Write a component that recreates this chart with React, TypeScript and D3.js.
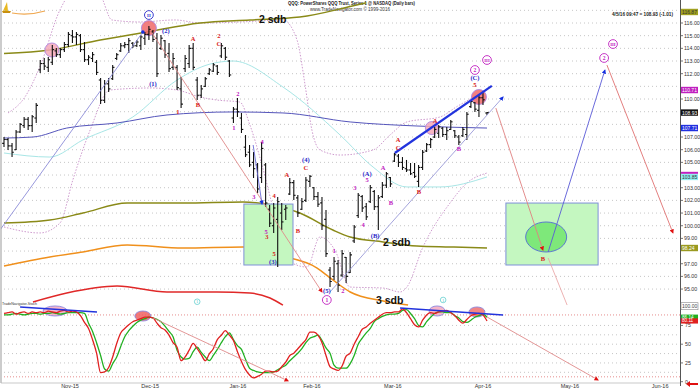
import React from 'react';
import * as d3 from 'd3';

// ---------- DATA ----------
const highs = [107.00,106.92,106.53,107.55,108.11,108.58,108.58,108.74,109.69,
113.08,113.24,113.32,114.26,114.03,114.03,114.50,115.29,115.45,115.29,
115.13,114.50,113.47,113.71,113.08,111.66,111.50,111.66,112.69,113.63,
114.42,114.50,114.82,114.50,114.66,115.05,115.29,115.76,115.45,115.21,
115.05,114.66,114.42,113.63,112.69,111.74,113.47,114.26,114.42,111.74,
111.11,111.74,112.45,112.84,112.69,114.42,114.11,113.08,109.37,110.08,
108.90,107.16,106.37,105.82,104.95,106.61,104.95,101.64,101.79,102.27,
101.79,101.64,103.77,103.61,102.42,102.19,103.85,104.00,103.06,102.66,
102.27,101.24,96.74,97.53,97.29,98.08,97.53,97.93,100.06,102.58,
102.42,101.79,103.21,102.82,102.42,103.45,104.24,103.85,105.74,105.66,
105.42,105.19,104.95,104.95,104.79,105.98,106.53,106.92,107.79,107.95,
107.79,107.79,108.34,107.55,107.16,107.79,108.98,109.92,109.76,110.32,
110.47,108.98];
const lows = [106.21,105.98,105.42,105.98,107.32,107.71,107.55,107.40,108.11,
112.05,112.29,112.13,112.69,113.32,113.24,113.71,114.11,114.42,114.26,
113.71,112.92,112.69,112.92,111.90,109.61,109.69,110.55,111.50,113.08,
113.71,114.03,113.63,114.03,114.11,113.87,114.26,114.66,114.50,111.74,
113.87,113.24,112.13,112.29,110.71,109.29,112.13,112.45,112.29,109.92,
110.08,110.95,111.90,112.13,111.90,113.24,113.08,111.74,108.11,108.58,
107.32,105.42,104.63,103.77,102.58,103.37,101.48,99.90,99.43,96.74,
99.66,100.45,102.42,102.03,100.69,101.24,101.87,103.06,102.03,101.48,
99.66,97.53,95.16,95.71,94.77,95.95,95.48,96.27,98.64,100.61,
101.08,100.45,101.79,101.24,99.66,102.19,102.98,103.06,105.03,104.63,
104.40,104.24,104.00,103.77,103.06,104.40,105.82,106.13,106.92,106.92,
107.00,106.77,107.55,106.92,106.37,107.00,106.77,109.29,108.98,108.58,
109.53,108.74];
const opens = [106.5,106.8,106.3,106.0,107.4,107.9,108.4,107.9,108.5,
112.3,112.8,112.5,112.9,113.8,113.5,113.9,114.3,115.0,114.9,
115.0,113.9,113.1,113.2,112.9,111.5,109.9,111.2,111.6,113.2,
113.8,114.2,114.3,114.4,114.2,114.2,114.8,115.1,115.3,114.8,
114.0,114.6,113.6,112.5,112.5,110.8,112.4,112.8,114.0,111.5,
110.3,111.0,112.0,112.2,112.6,113.4,114.0,113.0,108.5,109.2,
108.5,106.2,105.8,105.0,104.8,103.8,104.8,101.3,100.0,100.5,
101.0,101.3,102.5,103.4,102.2,101.3,102.0,103.5,103.0,102.3,
101.8,100.5,96.5,96.0,97.0,96.1,97.5,96.3,98.8,100.8,
102.3,101.5,101.9,102.7,101.5,102.3,103.2,103.8,105.1,105.5,
105.0,104.5,104.4,104.2,103.5,104.6,105.9,106.4,107.0,107.3,
107.7,107.2,107.6,107.5,107.0,107.1,107.2,109.4,109.7,109.1,
110.1,108.9];
const closes = [106.8,106.3,105.8,107.4,108.0,108.4,107.9,108.6,109.5,
112.8,112.6,113.1,113.9,113.5,113.9,114.3,115.1,114.9,115.1,
113.9,113.1,113.3,113.5,112.1,109.9,111.2,110.8,112.5,113.5,
114.2,114.3,114.6,114.2,114.5,114.9,115.1,115.5,114.7,112.0,
114.8,113.5,112.4,113.2,110.9,109.6,113.2,114.0,112.5,110.3,
110.8,111.6,112.3,112.7,112.1,114.2,113.3,111.9,109.2,109.0,
107.6,105.6,104.8,104.5,102.9,106.1,101.8,100.2,101.4,101.9,
100.3,101.4,103.4,102.4,101.0,101.9,103.6,103.9,102.3,101.7,
100.0,97.8,95.6,97.2,95.3,97.8,96.0,97.7,99.9,102.4,
101.4,100.7,103.0,101.5,102.2,103.2,104.1,103.3,105.6,105.0,
104.6,104.4,104.1,103.9,104.6,105.8,106.4,106.8,107.6,107.8,
107.2,107.5,108.2,107.1,106.6,107.6,108.8,109.8,109.2,110.1,
109.94,108.93];

const stochK = [91,92,93,90,92,93,91,93,92,93,92,94,93,92,94,95,93,94,93,
88,79,71,56,38,12,13,19,33,51,
65,71,76,80,82,84,86,86,85,78,
72,69,62,52,46,28,33,42,51,44,
36,28,37,44,56,62,68,62,55,40,
27,16,9,5,7,10,14,14,13,14,
20,26,35,38,44,50,56,66,66,62,
52,35,20,17,15,21,34,38,50,60,
70,73,78,82,86,90,92,92,93,93,
97,92,84,76,73,82,89,92,91,93,
94,95,92,88,82,78,83,88,90,91,
89,81];
const stochD = [89,89,90,91,90,89,90,91,91,90,91,91,92,91,90,91,92,92,92,
92,91,78,67,52,35,17,14,24,33,
47,60,68,74,79,82,84,86,85,83,
80,74,67,60,42,33,30,31,40,46,
39,33,28,35,43,52,60,65,56,48,
43,30,18,15,13,12,12,12,13,16,
19,22,28,33,38,44,52,58,60,62,
55,45,38,22,18,18,18,24,35,50,
58,65,71,80,84,87,89,90,90,91,
95,96,91,84,75,73,80,86,91,93,
93,92,92,88,85,80,79,82,86,88,
90,86];

// overlay curves: [bar index, price]
const upper2sdb: [number, number][] = [[0,113.6],[11.4,113.87],[23.9,114.66],[35.5,115.29],[48.7,116.0],[61.1,116.24],[73.5,116.47],[86,117.3],[90,117.6]];
const lower2sdb: [number, number][] = [[0,100.21],[11.4,100.45],[19.6,101.0],[30.6,101.79],[44.5,101.79],[59.4,101.87],[65.3,101.71],[73.5,101.0],[81.7,99.66],[86,99.11],[94.2,98.72],[102.6,98.4],[110.8,98.32],[120,98.24]];
const sdb3: [number, number][] = [[0,96.82],[11.4,97.53],[19.6,97.93],[30.6,98.48],[44.5,98.24],[59.4,98.32],[67.8,97.69],[77.8,96.66],[81.7,95.72],[86,94.77],[94.2,94.06],[100.4,93.74]];
const sdb4: [number, number][] = [[7.2,93.98],[15.6,94.69],[28.1,95.24],[40.5,94.77],[52.9,94.77],[61.1,94.69],[66.1,94.3],[69.3,93.74]];
const ma50: [number, number][] = [[0,106.92],[7.2,107.0],[15.6,107.71],[28.1,108.11],[40.5,108.74],[56.9,108.98],[69.3,108.9],[86,108.19],[102.6,107.87],[120,107.71]];
const ma20: [number, number][] = [[0,105.74],[11.4,105.42],[19.6,106.77],[32,108.58],[43,111.5],[51.2,112.76],[56.9,113.0],[69.3,110.95],[83.5,107.16],[91.7,104.63],[100.1,103.06],[108.3,103.06],[120,103.85]];
const bandUp: [number, number][] = [[1,108.9],[5.2,110.16],[8.9,112.53],[13.9,117.03],[18.9,119.0],[23.9,118.2],[26.8,116.24],[33.8,116.08],[42.5,116.24],[48.7,116.0],[58.6,116.08],[69.3,116.24],[72.8,114.66],[74.8,111.11],[76.5,107.55],[78.5,105.98],[83.5,105.58],[91.7,105.98],[95.9,107.16],[100.1,108.19],[108.3,108.58],[112.5,109.4],[120,110.71]];
const bandLo: [number, number][] = [[0,99.9],[8.9,99.43],[13.9,100.21],[17.1,103.61],[21.4,107.55],[26.3,110.71],[36.3,110.87],[43,110.71],[48.7,110.16],[52.9,109.92],[58.6,109.76],[61.1,107.95],[64.1,104.79],[67.3,100.85],[71.1,97.14],[75.3,96.74],[78.5,99.11],[82.2,98.08],[86,95.16],[94.2,95.08],[98.4,94.77],[100.1,95.16],[104.1,98.32],[110.8,101.79],[115,103.37],[120,104.16]];

// projection / trend lines [idx, price]
const trendLines = [
  { pts: [[36.3,115.45],[79,94.77]], color: '#e08a8a', w: 0.9, arrow: 'red' },
  { pts: [[-1,99.66],[34.5,115.29]], color: '#8c8cd8', w: 0.9, arrow: 'dot' },
  { pts: [[61.9,106.37],[64.1,101.71]], color: '#6a6ad8', w: 0.9, arrow: 'blue' },
  { pts: [[81,94.77],[124,110.16]], color: '#9a9ad8', w: 0.9, arrow: 'blue' },
  { pts: [[97.1,105.74],[121.2,111.03]], color: '#2233dd', w: 2.2, arrow: '' },
  { pts: [[122.2,109.29],[133.9,98.08]], color: '#e08080', w: 0.9, arrow: 'red' },
  { pts: [[135.2,97.45],[139.9,93.74]], color: '#e8a0a0', w: 0.8, arrow: '' },
  { pts: [[135.2,97.93],[149.3,112.29]], color: '#5a5ad8', w: 0.9, arrow: 'blue' },
  { pts: [[149.8,112.68],[166.2,99.43]], color: '#e07070', w: 0.9, arrow: 'red' },
];
const stochTrend = [
  { pts: [[37,85],[70.6,1]], color: '#e08a8a', w: 0.9, arrow: 'red' },
  { pts: [[120,86.3],[147.6,2.3]], color: '#e08a8a', w: 0.9, arrow: 'red' },
  { pts: [[4,99.6],[23.1,92.9]], color: '#2233dd', w: 1.4, arrow: '' },
  { pts: [[98.4,98.3],[124,89]], color: '#2233dd', w: 1.4, arrow: '' },
];

const priceCircles = [
  { i: 11.9, p: 113.87, r: 7, fill: '#f4a8b8' },
  { i: 36, p: 115.6, r: 7.5, fill: '#f06868' },
  { i: 106.3, p: 107.71, r: 6.5, fill: '#f4a8b8' },
  { i: 118, p: 110.16, r: 7.5, fill: '#f06868' },
];
const stochEllipses = [
  { i: 12.7, v: 94.3, rx: 12, ry: 5, fill: '#f4a8c0' },
  { i: 34.5, v: 87.6, rx: 8, ry: 5, fill: '#f06060' },
  { i: 107.6, v: 94.3, rx: 8, ry: 5, fill: '#f4a8c0' },
  { i: 117.5, v: 93, rx: 8, ry: 5, fill: '#f07070' },
];

const waveLabels: [string, number, number, string][] = [
  ['(1)',37,111.19,'b'],['(2)',40.2,115.37,'b'],['1',43.2,108.98,'r'],['A',47,114.74,'r'],
  ['B',48.2,109.53,'r'],['2',53.4,115.05,'r'],['C',53.4,114.42,'r'],['1',57.1,107.79,'m'],
  ['2',58.1,110.4,'m'],['3',62.1,102.27,'m'],['4',64.1,106.61,'m'],['4',67.1,102.42,'r'],
  ['5',65.1,99.58,'m'],['3',65.3,99.11,'r'],['5',67.1,97.77,'r'],['(3)',66.8,97.14,'b'],
  ['A',70.3,104.08,'r'],['B',73,99.66,'r'],['(4)',75,105.19,'b'],['C',75,104.63,'r'],
  ['(5)',80.2,94.85,'b'],['1',82,98.08,'m'],['2',84.2,94.85,'m'],['3',87.2,102.98,'m'],
  ['4',89.2,100.06,'m'],['(A)',90.2,104.16,'b'],['5',90.2,103.61,'m'],['(B)',92.2,99.19,'b'],
  ['A',94.2,104.63,'m'],['B',96.1,101.87,'m'],['A',97.9,106.77,'r'],['C',97.9,106.21,'r'],
  ['B',103.1,102.74,'r'],['A',107.1,108.34,'r'],['B',113,106.13,'m'],['(C)',117,111.66,'b'],
  ['5',117,111.11,'r'],['B',133.9,97.45,'r'],
];
const circledLabels: [string, number, number, string][] = [
  ['II',36,116.63,'#2828c8'],['1',80.2,94.14,'#c020c0'],['2',117,112.29,'#c020c0'],
  ['III',120,113.08,'#c020c0'],['2',149.1,113.24,'#c020c0'],['III',151.3,114.34,'#c020c0'],
];
const cyanMarks: [number, number][] = [[48.0,94.0],[109.1,94.14]];

const greenBoxes = [
  { i0: 59.6, i1: 71.8, p0: 101.71, p1: 96.9 },
  { i0: 124.7, i1: 147.6, p0: 101.79, p1: 96.9 },
];
const targetEllipse = { i: 134.7, p: 99.11, rx: 20.5, ry: 15 };

const priceTicks = [95,96,97,99,100,101,102,103,105,106,107,110,112,113,114,115,116];
const gridPrices = d3.range(95, 118, 1);
const stochTickVals = [0,25,50,75];
const stochGrid = [12.5,25,37.5,50,62.5,75];
const stochRed = [6.5, 89];
const monthLabels = ['Nov-15','Dec-15','Jan-16','Feb-16','Mar-16','Apr-16','May-16','Jun-16'];
const monthIdx = [16.4,36.3,58.1,76.5,96.6,119,140.6,163];

const axisBoxes: [number, string, string, string][] = [
  [116.87,'116.87','#a0a020','#333'],[110.71,'110.71','#c020c0','#fff'],
  [108.93,'108.93','#111111','#fff'],[107.71,'107.71','#2030e0','#fff'],
  [103.85,'103.85','#90eef0','#333'],[98.24,'98.24','#9a9a20','#fff'],
];
const stochBoxes: [number, string, string, string][] = [
  [86,'86.14','#20b020','#fff'],[81,'80.11','#e02020','#fff'],
];

// ---------- SCALES ----------
const x = d3.scaleLinear().domain([0, 120]).range([4, 487]);
const y = d3.scaleLinear().domain([95, 116]).range([289.07, 23]);
const ys = d3.scaleLinear().domain([0, 100]).range([381.7, 306.7]);

const pLine = d3.line<[number, number]>().x(d => x(d[0])).y(d => y(d[1])).curve(d3.curveMonotoneX);
const pStraight = d3.line<number[]>().x(d => x(d[0])).y(d => y(d[1]));
const sStraight = d3.line<number[]>().x(d => x(d[0])).y(d => ys(d[1]));
const kLine = d3.line<number>().x((_, i) => x(i)).y(d => ys(d)).curve(d3.curveMonotoneX);

const colorOf: Record<string, string> = { r: '#d81818', m: '#c020c0', b: '#2828c8' };

export default function App() {
  const sans = 'Liberation Sans, Arial, sans-serif';
  const serif = 'Liberation Serif, Times New Roman, serif';
  const arrowFor = (a: string) => (a === 'red' ? 'url(#arrRed)' : a === 'blue' ? 'url(#arrBlue)' : a === 'dot' ? 'url(#dotBlue)' : undefined);
  return (
    <svg width={700} height={391} style={{ position: 'fixed', left: 0, top: 0, background: '#fff' }}
      xmlns="http://www.w3.org/2000/svg">
      <defs>
        <marker id="arrRed" viewBox="0 0 10 10" refX="8" refY="5" markerWidth="5" markerHeight="5" orient="auto">
          <path d="M0,0 L10,5 L0,10 z" fill="#e01010" />
        </marker>
        <marker id="arrBlue" viewBox="0 0 10 10" refX="8" refY="5" markerWidth="5" markerHeight="5" orient="auto">
          <path d="M0,0 L10,5 L0,10 z" fill="#1530e0" />
        </marker>
        <marker id="dotBlue" viewBox="0 0 10 10" refX="5" refY="5" markerWidth="4" markerHeight="4">
          <circle cx="5" cy="5" r="5" fill="#1530e0" />
        </marker>
        <clipPath id="plot"><rect x={1} y={0} width={679} height={384} /></clipPath>
      </defs>
      <rect x={0} y={0} width={700} height={391} fill="#fff" />

      {/* logo */}
      <path d="M3,11 L7,2 L8,11 Z" fill="#e8b820" />
      <path d="M2,11 L11,11 L10,13 L3,13 Z" fill="#c89010" />
      <path d="M12,13 Q28,16 45,11" stroke="#f0a850" strokeWidth={1.2} fill="none" />

      {/* header */}
      <text x={288} y={5} fontSize={5} fontWeight="bold" fontFamily={sans} fill="#222" textLength={127} lengthAdjust="spacingAndGlyphs">QQQ: PowerShares QQQ Trust, Series 1 @ NASDAQ (Daily bars)</text>
      <text x={310} y={10.5} fontSize={4.6} fontFamily={sans} fill="#333" textLength={80} lengthAdjust="spacingAndGlyphs">www.TradeNavigator.com © 1999-2016</text>
      <text x={612} y={15.5} fontSize={5} fontWeight="bold" fontFamily={sans} fill="#222" textLength={61} lengthAdjust="spacingAndGlyphs">4/5/16 09:47 = 108.93 (-1.01)</text>

      {/* grid */}
      {gridPrices.map(p => (
        <line key={'g' + p} x1={4} x2={680} y1={y(p)} y2={y(p)} stroke="#b8b8b8" strokeWidth={0.8} strokeDasharray="1,3" />
      ))}
      {stochGrid.map(v => (
        <line key={'sg' + v} x1={4} x2={680} y1={ys(v)} y2={ys(v)} stroke="#b8b8b8" strokeWidth={0.8} strokeDasharray="1,3" />
      ))}
      {stochRed.map(v => (
        <line key={'sr' + v} x1={4} x2={680} y1={ys(v)} y2={ys(v)} stroke="#e07070" strokeWidth={0.8} strokeDasharray="1,2" />
      ))}

      <g clipPath="url(#plot)">
        {/* bands */}
        <path d={pLine(bandUp) || ''} fill="none" stroke="#c890c8" strokeWidth={0.9} strokeDasharray="1.5,1.5" />
        <path d={pLine(bandLo) || ''} fill="none" stroke="#c890c8" strokeWidth={0.9} strokeDasharray="1.5,1.5" />
        <path d={pLine(ma20) || ''} fill="none" stroke="#a8e6e6" strokeWidth={1} />
        <path d={pLine(ma50) || ''} fill="none" stroke="#5555bb" strokeWidth={1} />
        <path d={pLine(upper2sdb) || ''} fill="none" stroke="#8a8a18" strokeWidth={1.5} />
        <path d={pLine(lower2sdb) || ''} fill="none" stroke="#8a8a18" strokeWidth={1.5} />
        <path d={pLine(sdb3) || ''} fill="none" stroke="#f0901c" strokeWidth={1.5} />
        <path d={pLine(sdb4) || ''} fill="none" stroke="#e02828" strokeWidth={1.5} />

        {/* green boxes */}
        {greenBoxes.map((b, k) => (
          <rect key={'gb' + k} x={x(b.i0)} y={y(b.p0)} width={x(b.i1) - x(b.i0)} height={y(b.p1) - y(b.p0)}
            fill="#c4f7c0" stroke="#7f90d8" strokeWidth={1} />
        ))}
        <ellipse cx={x(targetEllipse.i)} cy={y(targetEllipse.p)} rx={targetEllipse.rx} ry={targetEllipse.ry}
          fill="#7ee87a" stroke="#5a78d0" strokeWidth={1} />

        {/* circles */}
        {priceCircles.map((c, k) => (
          <circle key={'pc' + k} cx={x(c.i)} cy={y(c.p)} r={c.r} fill={c.fill} fillOpacity={0.85} stroke="#b088e0" strokeWidth={0.9} />
        ))}
        {stochEllipses.map((c, k) => (
          <ellipse key={'se' + k} cx={x(c.i)} cy={ys(c.v)} rx={c.rx} ry={c.ry} fill={c.fill} fillOpacity={0.85} stroke="#8a8ae0" strokeWidth={0.9} />
        ))}

        {/* bars */}
        {highs.map((h, i) => {
          const cx = x(i);
          return (
            <g key={'b' + i} stroke="#111" strokeWidth={1.1}>
              <line x1={cx} x2={cx} y1={y(h)} y2={y(lows[i])} />
              <line x1={cx - 1.8} x2={cx} y1={y(opens[i])} y2={y(opens[i])} />
              <line x1={cx} x2={cx + 1.8} y1={y(closes[i])} y2={y(closes[i])} />
            </g>
          );
        })}

        {/* stochastic */}
        <path d={kLine(stochD) || ''} fill="none" stroke="#22b022" strokeWidth={1.3} />
        <path d={kLine(stochK) || ''} fill="none" stroke="#e02020" strokeWidth={1.3} />

        {/* trend lines */}
        {trendLines.map((t, k) => (
          <path key={'tl' + k} d={pStraight(t.pts) || ''} stroke={t.color} strokeWidth={t.w} fill="none" markerEnd={arrowFor(t.arrow)} />
        ))}
        {stochTrend.map((t, k) => (
          <path key={'st' + k} d={sStraight(t.pts) || ''} stroke={t.color} strokeWidth={t.w} fill="none" markerEnd={arrowFor(t.arrow)} />
        ))}

        {/* wave labels */}
        {waveLabels.map(([t, i, p, c], k) => (
          <text key={'wl' + k} x={x(i)} y={y(p)} fontSize={6.5} fontWeight="bold" fontFamily={serif} fill={colorOf[c]}
            textAnchor="middle" dominantBaseline="central">{t}</text>
        ))}
        {circledLabels.map(([t, i, p, c], k) => (
          <g key={'cl' + k}>
            <circle cx={x(i)} cy={y(p)} r={4.4} fill="#fff" stroke={c} strokeWidth={0.9} />
            <text x={x(i)} y={y(p) + 0.3} fontSize={t.length > 1 ? 4.6 : 5.6} fontWeight="bold" fontFamily={serif} fill={c}
              textAnchor="middle" dominantBaseline="central">{t}</text>
          </g>
        ))}
        {cyanMarks.map(([i, p], k) => (
          <g key={'cm' + k}>
            <circle cx={x(i)} cy={y(p)} r={2.8} fill="none" stroke="#50c8c8" strokeWidth={0.7} />
            <text x={x(i)} y={y(p) + 0.2} fontSize={4} fontFamily={serif} fill="#40b8b8" textAnchor="middle" dominantBaseline="central">1</text>
          </g>
        ))}
      </g>

      {/* sdb labels */}
      <text x={259} y={23} fontSize={10.5} fontWeight="bold" fontFamily={sans} fill="#111">2 sdb</text>
      <text x={383} y={245.5} fontSize={10.5} fontWeight="bold" fontFamily={sans} fill="#111">2 sdb</text>
      <text x={376} y={303.5} fontSize={10.5} fontWeight="bold" fontFamily={sans} fill="#111">3 sdb</text>

      <text x={2} y={304.5} fontSize={4.2} fontFamily={sans} fill="#333" textLength={35} lengthAdjust="spacingAndGlyphs">TradeNavigator-Stoch</text>

      {/* frame */}
      <line x1={1} x2={1} y1={0} y2={383} stroke="#999" strokeWidth={1} />
      <line x1={1} x2={680} y1={383} y2={383} stroke="#bbb" strokeWidth={0.8} />
      <line x1={680.5} x2={680.5} y1={0} y2={386} stroke="#555" strokeWidth={1} />

      {/* price axis */}
      {priceTicks.map(p => (
        <g key={'pt' + p}>
          <line x1={680} x2={683} y1={y(p)} y2={y(p)} stroke="#555" strokeWidth={0.8} />
          <text x={684} y={y(p)} fontSize={5.3} fontFamily={sans} fill="#333" dominantBaseline="central">{p.toFixed(2)}</text>
        </g>
      ))}
      {axisBoxes.map(([p, t, bg, fg], k) => (
        <g key={'ab' + k}>
          <rect x={681} y={y(p) - 3.2} width={17} height={6.4} fill={bg} />
          <text x={682} y={y(p)} fontSize={5} fontFamily={sans} fill={fg} dominantBaseline="central">{t}</text>
        </g>
      ))}
      <rect x={681} y={y(104.16) - 1.2} width={17} height={2} fill="#c020c0" />
      {stochTickVals.map(v => (
        <g key={'stv' + v}>
          <line x1={680} x2={683} y1={ys(v)} y2={ys(v)} stroke="#555" strokeWidth={0.8} />
          <text x={685} y={ys(v)} fontSize={5.3} fontFamily={sans} fill="#333" dominantBaseline="central">{v}</text>
        </g>
      ))}
      <rect x={681} y={ys(100) - 4} width={17} height={7} fill="#fff" stroke="#888" strokeWidth={0.6} />
      <text x={682} y={ys(100) - 0.5} fontSize={5} fontFamily={sans} fill="#444" dominantBaseline="central">100.00</text>
      {stochBoxes.map(([v, t, bg, fg], k) => (
        <g key={'sb' + k}>
          <rect x={681} y={ys(v) - 2.6} width={17} height={5.2} fill={bg} />
          <text x={682} y={ys(v)} fontSize={4.6} fontFamily={sans} fill={fg} dominantBaseline="central">{t}</text>
        </g>
      ))}

      {/* month labels */}
      {monthLabels.map((m, k) => (
        <text key={'m' + m} x={x(monthIdx[k])} y={388} fontSize={5.5} fontFamily={sans} fill="#333" textAnchor="middle">{m}</text>
      ))}
      {/* red arrow bottom right */}
      <path d="M686,384 L690,381 L690,383 L698,383 L698,385 L690,385 L690,387 Z" fill="#e01010" />
    </svg>
  );
}
